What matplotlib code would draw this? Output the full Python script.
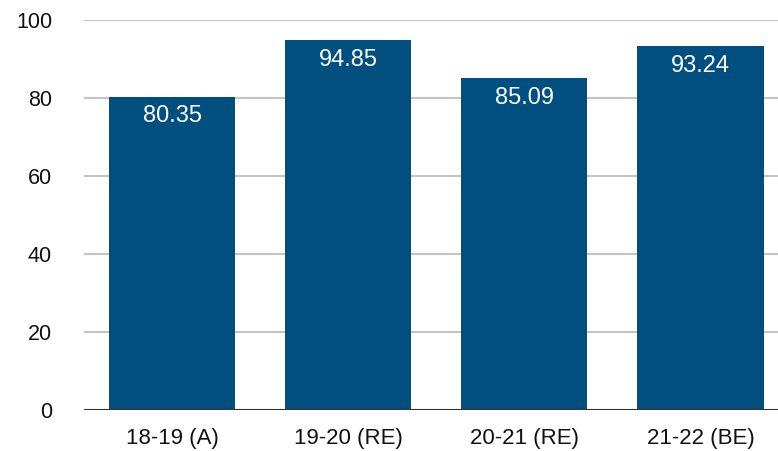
import matplotlib
matplotlib.use("Agg")
import matplotlib.pyplot as plt
from matplotlib.transforms import offset_copy

categories = ["18-19 (A)", "19-20 (RE)", "20-21 (RE)", "21-22 (BE)"]
values = [80.35, 94.85, 85.09, 93.24]
yticks = [0, 20, 40, 60, 80, 100]

plt.rcParams["font.family"] = ["Liberation Sans", "DejaVu Sans"]

W, H = 778, 451
fig = plt.figure(figsize=(W / 100, H / 100), dpi=100)
ax = fig.add_axes([84 / W, 1 - 410 / H, 1 - 84 / W, 390 / H])

bar_color = "#014f7e"
x = range(len(categories))
bars = ax.bar(x, values, width=0.716, color=bar_color, zorder=3)

ax.set_xlim(-0.5, 3.44)
ax.set_ylim(0, 100)
ax.set_yticks(yticks)
ax.set_xticks(list(x))
ax.set_xticklabels(categories)

for y in yticks[1:]:
    ax.axhline(y, color="#c4c4c4", lw=1.5, zorder=1)
ax.axhline(0, color="#333333", lw=1.5, zorder=4)

for s in ax.spines.values():
    s.set_visible(False)
ax.tick_params(axis="both", length=0, labelsize=16, colors="#111111")
ax.tick_params(axis="y", labelsize=15.5, pad=23)
ax.tick_params(axis="x", pad=13)

for b, v in zip(bars, values):
    tr = offset_copy(ax.transData, fig=fig, x=0, y=-19.5, units="dots")
    ax.text(b.get_x() + b.get_width() / 2, v, f"{v:.2f}", transform=tr,
            ha="center", va="center", color="white", fontsize=17, zorder=5)

fig.savefig("out.png", dpi=100)
